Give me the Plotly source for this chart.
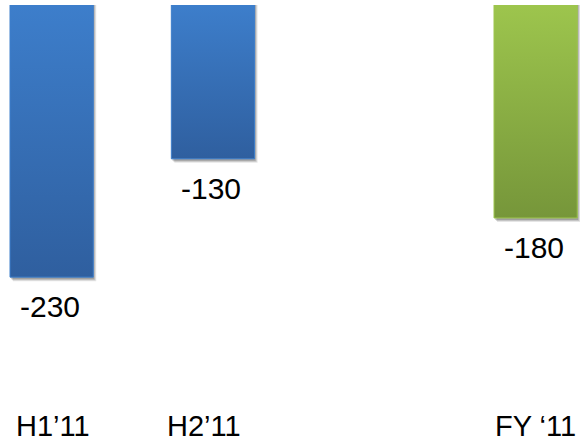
import plotly.graph_objects as go

# Half-year and full-year results
periods = ["H1’11", "H2’11", "FY ‘11"]
values = [-230, -130, -180]
value_labels = ["-230", "-130", "-180"]

# colours (top, bottom) of each bar's vertical gradient
blue = ("#3D7ECB", "#2F5F9F")
green = ("#9DC54D", "#76963A")
bar_colours = [blue, blue, green]

FONT = "Arial, Liberation Sans, sans-serif"
W, H = 580, 444
TOP, BOTTOM = 5, 34
BAR_W = 0.516
# the full-year bar sits one empty slot to the right of the halves
slots = [0, 1, 3]
# small horizontal nudges of the period captions (pixels)
caption_nudge = [1, -9, 0]

y_min = -342.3
x_range = [-0.32, 3.275]
px_x = W / (x_range[1] - x_range[0])
px_y = (H - TOP - BOTTOM) / (0 - y_min)

fig = go.Figure()

# soft drop shadow under each bar
for x, v in zip(slots, values):
    for dx, dy, op in [(3, 4, 0.10), (2, 3, 0.14), (1, 2, 0.18)]:
        ox, oy = dx / px_x, dy / px_y
        x0, x1 = x - BAR_W / 2 + ox, x + BAR_W / 2 + ox
        fig.add_trace(go.Scatter(
            x=[x0, x1, x1, x0, x0], y=[0, 0, v - oy, v - oy, 0],
            mode="lines", fill="toself", line=dict(width=0),
            fillcolor=f"rgba(0,0,0,{op})", hoverinfo="skip", showlegend=False,
        ))

# gradient-filled bars hanging down from zero
for x, v, (c_top, c_bot), name in zip(slots, values, bar_colours, periods):
    x0, x1 = x - BAR_W / 2, x + BAR_W / 2
    fig.add_trace(go.Scatter(
        x=[x0, x1, x1, x0, x0], y=[0, 0, v, v, 0],
        mode="lines", fill="toself",
        line=dict(width=1, color=c_top),
        fillgradient=dict(type="vertical", colorscale=[[0, c_bot], [1, c_top]],
                          start=v, stop=0),
        name=name, showlegend=False,
    ))

# value labels beneath each bar
for x, v, t in zip(slots, values, value_labels):
    fig.add_annotation(x=x, y=v, text=t, showarrow=False, xanchor="center",
                       yanchor="top", yshift=-11, xshift=-2,
                       font=dict(family=FONT, size=30, color="#000000"))

# period captions along the bottom
for x, p, nudge in zip(slots, periods, caption_nudge):
    fig.add_annotation(x=x, y=0, yref="paper", text=p, showarrow=False,
                       xanchor="center", yanchor="top", yshift=2, xshift=nudge,
                       font=dict(family=FONT, size=29, color="#000000"))

fig.update_layout(
    width=W, height=H,
    margin=dict(l=0, r=0, t=TOP, b=BOTTOM, pad=0),
    paper_bgcolor="white", plot_bgcolor="white",
    xaxis=dict(range=x_range, showticklabels=False,
               showgrid=False, zeroline=False, showline=False, ticks="",
               automargin=False, fixedrange=True),
    yaxis=dict(range=[y_min, 0], visible=False, showgrid=False, zeroline=False,
               automargin=False, fixedrange=True),
)

fig.write_html("out.html")
